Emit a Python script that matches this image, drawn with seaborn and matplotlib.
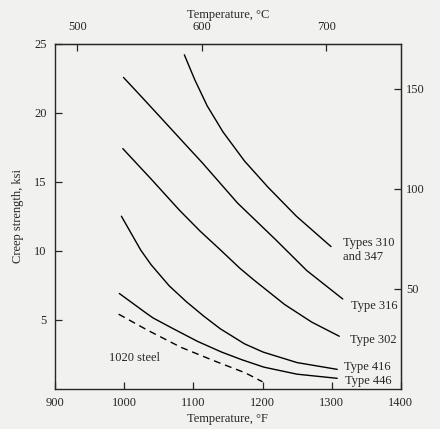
import numpy as np
import pandas as pd
import matplotlib
matplotlib.use("Agg")
import matplotlib.pyplot as plt
import seaborn as sns

# Creep strength curves (temperature in F, strength in ksi)
t310 = [1087, 1102, 1120, 1143, 1174, 1208, 1249, 1299]
s310 = [24.2, 22.4, 20.5, 18.6, 16.5, 14.6, 12.5, 10.3]

t316 = [999, 1023, 1053, 1083, 1113, 1164, 1219, 1264, 1316]
s316 = [22.56, 21.27, 19.64, 18.0, 16.37, 13.45, 10.8, 8.56, 6.5]

t302 = [998, 1040, 1080, 1110, 1140, 1167, 1187, 1232, 1271, 1311]
s302 = [17.4, 15.14, 12.93, 11.41, 10.02, 8.74, 7.9, 6.1, 4.83, 3.8]

t416 = [996, 1024, 1039, 1065, 1090, 1115, 1139, 1174, 1201, 1250, 1308]
s416 = [12.5, 10.04, 8.98, 7.46, 6.3, 5.26, 4.34, 3.25, 2.65, 1.89, 1.4]

t446 = [993, 1032, 1042, 1067, 1106, 1141, 1170, 1202, 1250, 1308]
s446 = [6.9, 5.47, 5.12, 4.45, 3.43, 2.65, 2.1, 1.56, 1.05, 0.75]

t1020 = [992, 1033, 1082, 1131, 1175, 1200]
s1020 = [5.4, 4.26, 3.0, 2.0, 1.15, 0.5]

curve_labels = ["Types 310\nand 347", "Type 316", "Type 302", "Type 416", "Type 446", "1020 steel"]
label_x = [1316, 1328, 1327, 1318, 1319, 978]
label_y = [10.05, 6.0, 3.5, 1.6, 0.57, 2.25]

f_ticks = [900, 1000, 1100, 1200, 1300, 1400]
ksi_ticks = [5, 10, 15, 20, 25]
c_ticks = [500, 600, 700]
mpa_ticks = [50, 100, 150]

sns.set_style("ticks")
plt.rcParams["font.family"] = ["Liberation Serif", "DejaVu Serif"]
plt.rcParams["font.size"] = 9

bg = "#f1f1ef"
fig = plt.figure(figsize=(4.4, 4.29), dpi=100, facecolor=bg)
ax = fig.add_axes([0.125, 0.094, 0.786, 0.804])
ax.set_facecolor(bg)

solid = [(t310, s310), (t316, s316), (t302, s302), (t416, s416), (t446, s446)]
for t, s in solid:
    sns.lineplot(x=t, y=s, ax=ax, color="black", lw=1.0, sort=False)
sns.lineplot(x=t1020, y=s1020, ax=ax, color="black", lw=1.0, sort=False,
             linestyle=(0, (5, 3.5)))

for txt, x, y in zip(curve_labels, label_x, label_y):
    ax.text(x, y, txt, ha="left", va="center", fontsize=9, linespacing=1.2)

ax.set_xlim(900, 1400)
ax.set_ylim(0, 25)
ax.set_xticks(f_ticks)
ax.set_yticks(ksi_ticks)
ax.tick_params(axis="x", direction="in", length=5, width=0.9, labelsize=9, pad=6)
ax.tick_params(axis="y", direction="in", length=5, width=0.9, labelsize=9, pad=6)
ax.set_xlabel("Temperature, °F", fontsize=9, labelpad=3)
ax.set_ylabel("Creep strength, ksi", fontsize=9, labelpad=7)
for sp in ax.spines.values():
    sp.set_visible(True)
    sp.set_linewidth(1.0)

# Celsius on top, MPa on the right
top = ax.secondary_xaxis("top", functions=(lambda f: (f - 32) * 5 / 9, lambda c: c * 9 / 5 + 32))
top.set_xticks(c_ticks)
top.tick_params(direction="in", length=5, width=0.9, labelsize=9, pad=8)
top.set_xlabel("Temperature, °C", fontsize=9, labelpad=2)

right = ax.secondary_yaxis("right", functions=(lambda k: k * 6.895, lambda m: m / 6.895))
right.set_yticks(mpa_ticks)
right.tick_params(direction="in", length=5, width=0.9, labelsize=9, pad=4)

fig.savefig("out.png", dpi=100, facecolor=bg)
